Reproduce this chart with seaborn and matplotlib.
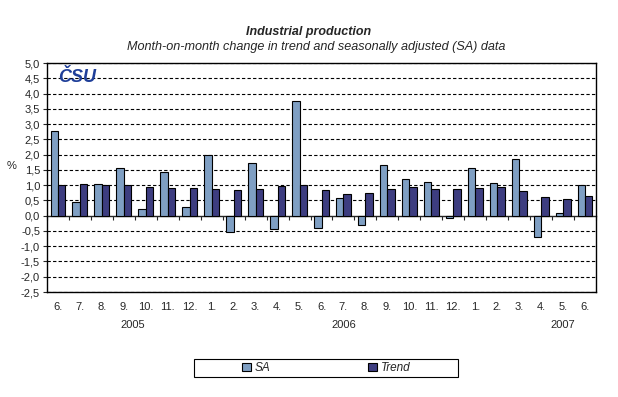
import numpy as np
import pandas as pd
import matplotlib
matplotlib.use("Agg")
import matplotlib.pyplot as plt
import seaborn as sns
from matplotlib.patches import Patch, Rectangle

# ===== data =====
months = ["6.", "7.", "8.", "9.", "10.", "11.", "12.",
          "1.", "2.", "3.", "4.", "5.", "6.", "7.", "8.", "9.", "10.", "11.", "12.",
          "1.", "2.", "3.", "4.", "5.", "6."]
years = ["2005"] * 7 + ["2006"] * 12 + ["2007"] * 6
sa = [2.78, 0.45, 1.04, 1.56, 0.22, 1.43, 0.28,
      1.99, -0.53, 1.72, -0.43, 3.76, -0.41, 0.59, -0.30, 1.67, 1.20, 1.10, -0.08,
      1.56, 1.07, 1.86, -0.70, 0.09, 1.00]
trend = [0.99, 1.04, 1.00, 1.00, 0.94, 0.91, 0.91,
         0.87, 0.84, 0.87, 0.97, 1.00, 0.84, 0.71, 0.74, 0.87, 0.94, 0.87, 0.87,
         0.91, 0.94, 0.81, 0.61, 0.55, 0.64]
year_labels = ["2005", "2006", "2007"]
year_pos = [3.4, 13, 23]

keys = [f"{y}-{i}" for i, y in enumerate(years)]
df = pd.DataFrame({
    "key": keys * 2,
    "value": sa + trend,
    "series": ["SA"] * len(sa) + ["Trend"] * len(trend),
})

# ===== style =====
sns.set_style("white")
plt.rcParams["font.family"] = ["Liberation Sans", "DejaVu Sans"]
plt.rcParams["font.size"] = 8

colors = {"SA": "#7f9fc3", "Trend": "#3d3d80"}

fig = plt.figure(figsize=(6.18, 3.97), dpi=100)
ax = fig.add_axes([47 / 618, 1 - 292 / 397, 549 / 618, 229 / 397])

sns.barplot(data=df, x="key", y="value", hue="series", order=keys,
            palette=colors, saturation=1, width=0.68, edgecolor="black",
            linewidth=0.8, legend=False, ax=ax)

ax.set_xlim(-0.5, len(keys) - 0.5)
ax.set_ylim(-2.5, 5.0)
yt = np.arange(-2.5, 5.01, 0.5)
ax.set_yticks(yt)
ax.set_yticklabels([f"{v:.1f}".replace(".", ",") for v in yt])
ax.tick_params(axis="y", direction="out", length=3, width=0.8, pad=2, left=True)

# month labels below the plot area, no ticks on the bottom spine
ax.set_xticks(range(len(keys)))
ax.set_xticklabels(months)
ax.tick_params(axis="x", length=0, pad=7)
ax.set_xlabel("")
ax.set_ylabel("%", rotation=0, va="center", ha="center")
ax.yaxis.set_label_coords(-0.064, 0.55)

# dashed grid
for v in yt:
    if abs(v) > 1e-9:
        ax.axhline(v, color="black", linestyle=(0, (3, 2)), linewidth=0.8, zorder=0)

# zero axis with ticks between categories
sec = ax.secondary_xaxis(2.5 / 7.5)
sec.set_xticks(np.arange(-0.5, len(keys), 1.0))
sec.set_xticklabels([])
sec.tick_params(direction="out", length=3, width=0.8)
sec.spines["bottom"].set_linewidth(1.0)

for s in ax.spines.values():
    s.set_color("black")
    s.set_linewidth(1.0)

# years
for lab, p in zip(year_labels, year_pos):
    ax.text(p, -0.145, lab, transform=ax.get_xaxis_transform(),
            ha="center", va="center", fontsize=8)

# logo
ax.text(0.021, 0.935, "ČSU", transform=ax.transAxes, color="#1f3f99",
        fontsize=13, fontweight="heavy", style="italic", ha="left", va="center")

# titles
fig.text(0.5, 1 - 32 / 397, "Industrial production", ha="center", va="center",
         fontsize=9, fontweight="bold", style="italic")
fig.text(0.512, 1 - 47 / 397,
         "Month-on-month change in trend and seasonally adjusted (SA) data",
         ha="center", va="center", fontsize=9.1, style="italic")

# legend (frame drawn separately)
fig.patches.append(Rectangle((194 / 618, 1 - 377 / 397), 264 / 618, 18 / 397,
                             transform=fig.transFigure, facecolor="white",
                             edgecolor="black", linewidth=0.8))
handles = [Patch(facecolor=colors[k], edgecolor="black", linewidth=0.8, label=k)
           for k in ["SA", "Trend"]]
fig.legend(handles=handles, loc="center",
           bbox_to_anchor=(326 / 618, 1 - 368 / 397),
           ncol=2, frameon=False, handlelength=0.75, handleheight=0.75,
           handletextpad=0.3, columnspacing=8.3, borderaxespad=0,
           prop={"style": "italic", "size": 8.5})

fig.savefig("out.png", dpi=100)
